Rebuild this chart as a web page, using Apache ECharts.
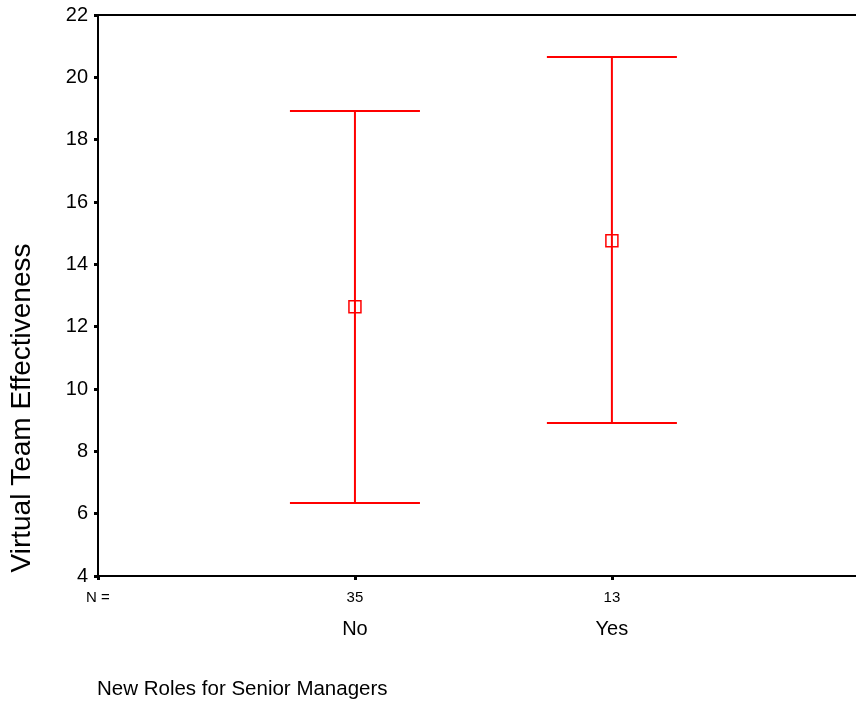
<!DOCTYPE html>
<html>
<head>
<meta charset="utf-8">
<script src="https://cdn.jsdelivr.net/npm/echarts@6/dist/echarts.min.js"></script>
<style>
  html, body { margin: 0; padding: 0; background: #fff; }
  #chart { width: 856px; height: 711px; }
</style>
</head>
<body>
<div id="chart"></div>
<script>
// Error bar data
const categories = ['No', 'Yes'];
const groupN = [35, 13];
const means = [12.64, 14.76];
const lower = [6.34, 8.91];
const upper = [18.92, 20.65];

const yTicks = { min: 4, max: 22, step: 2 };

const font = 'Liberation Sans, Arial, sans-serif';
const chart = echarts.init(document.getElementById('chart'));

const barData = categories.map((c, i) => [i + 1, lower[i], upper[i]]);
const meanData = categories.map((c, i) => [i + 1, means[i]]);

chart.setOption({
    animation: false,
    textStyle: { fontFamily: font },
    title: {
        text: 'New Roles for Senior Managers',
        left: 92,
        top: 674,
        textStyle: { fontSize: 20.5, fontWeight: 'normal', color: '#000', fontFamily: font }
    },
    graphic: [{
        type: 'text',
        x: 22,
        y: 408,
        rotation: Math.PI / 2,
        style: {
            text: 'Virtual Team Effectiveness',
            fontSize: 28,
            fill: '#000',
            align: 'center',
            verticalAlign: 'middle',
            fontFamily: font
        }
    }],
    grid: { left: 98, right: 0, top: 15, bottom: 135, containLabel: false },
    xAxis: [{
        type: 'value',
        min: 0,
        max: 2.95,
        interval: 1,
        splitLine: { show: false },
        axisLine: { lineStyle: { color: '#000', width: 2 } },
        axisTick: { length: 4, lineStyle: { color: '#000', width: 3 } },
        axisLabel: {
            margin: 14,
            showMaxLabel: false,
            formatter: v => {
                if (v === 0) return '{n|N =}';
                const i = v - 1;
                if (i >= 0 && i < categories.length) return '{n|' + groupN[i] + '}\n{c|' + categories[i] + '}';
                return '';
            },
            rich: {
                n: { fontSize: 15, color: '#000', lineHeight: 15, fontFamily: font },
                c: { fontSize: 20, color: '#000', lineHeight: 49, fontFamily: font }
            }
        }
    }, {
        type: 'value',
        position: 'top',
        min: 0,
        max: 2.95,
        splitLine: { show: false },
        axisLine: { lineStyle: { color: '#000', width: 2 } },
        axisTick: { show: false },
        axisLabel: { show: false }
    }],
    yAxis: {
        type: 'value',
        min: yTicks.min,
        max: yTicks.max,
        interval: yTicks.step,
        splitLine: { show: false },
        axisLine: { show: true, lineStyle: { color: '#000', width: 2 } },
        axisTick: { show: true, length: 4, lineStyle: { color: '#000', width: 3 } },
        axisLabel: { fontSize: 20, color: '#000', margin: 10, fontFamily: font }
    },
    series: [{
        type: 'custom',
        data: barData,
        renderItem: (params, api) => {
            const x = api.value(0);
            const lo = api.coord([x, api.value(1)]);
            const hi = api.coord([x, api.value(2)]);
            const half = api.size([0.253, 0])[0];
            const style = { stroke: '#ff0000', lineWidth: 2 };
            return {
                type: 'group',
                children: [
                    { type: 'line', shape: { x1: lo[0], y1: lo[1], x2: hi[0], y2: hi[1] }, style: style },
                    { type: 'line', shape: { x1: hi[0] - half, y1: hi[1], x2: hi[0] + half, y2: hi[1] }, style: style },
                    { type: 'line', shape: { x1: lo[0] - half, y1: lo[1], x2: lo[0] + half, y2: lo[1] }, style: style }
                ]
            };
        },
        z: 2
    }, {
        type: 'scatter',
        data: meanData,
        symbol: 'rect',
        symbolSize: 12,
        itemStyle: { color: 'rgba(0,0,0,0)', borderColor: '#ff0000', borderWidth: 1.5, opacity: 1 },
        z: 3
    }]
});
</script>
</body>
</html>
